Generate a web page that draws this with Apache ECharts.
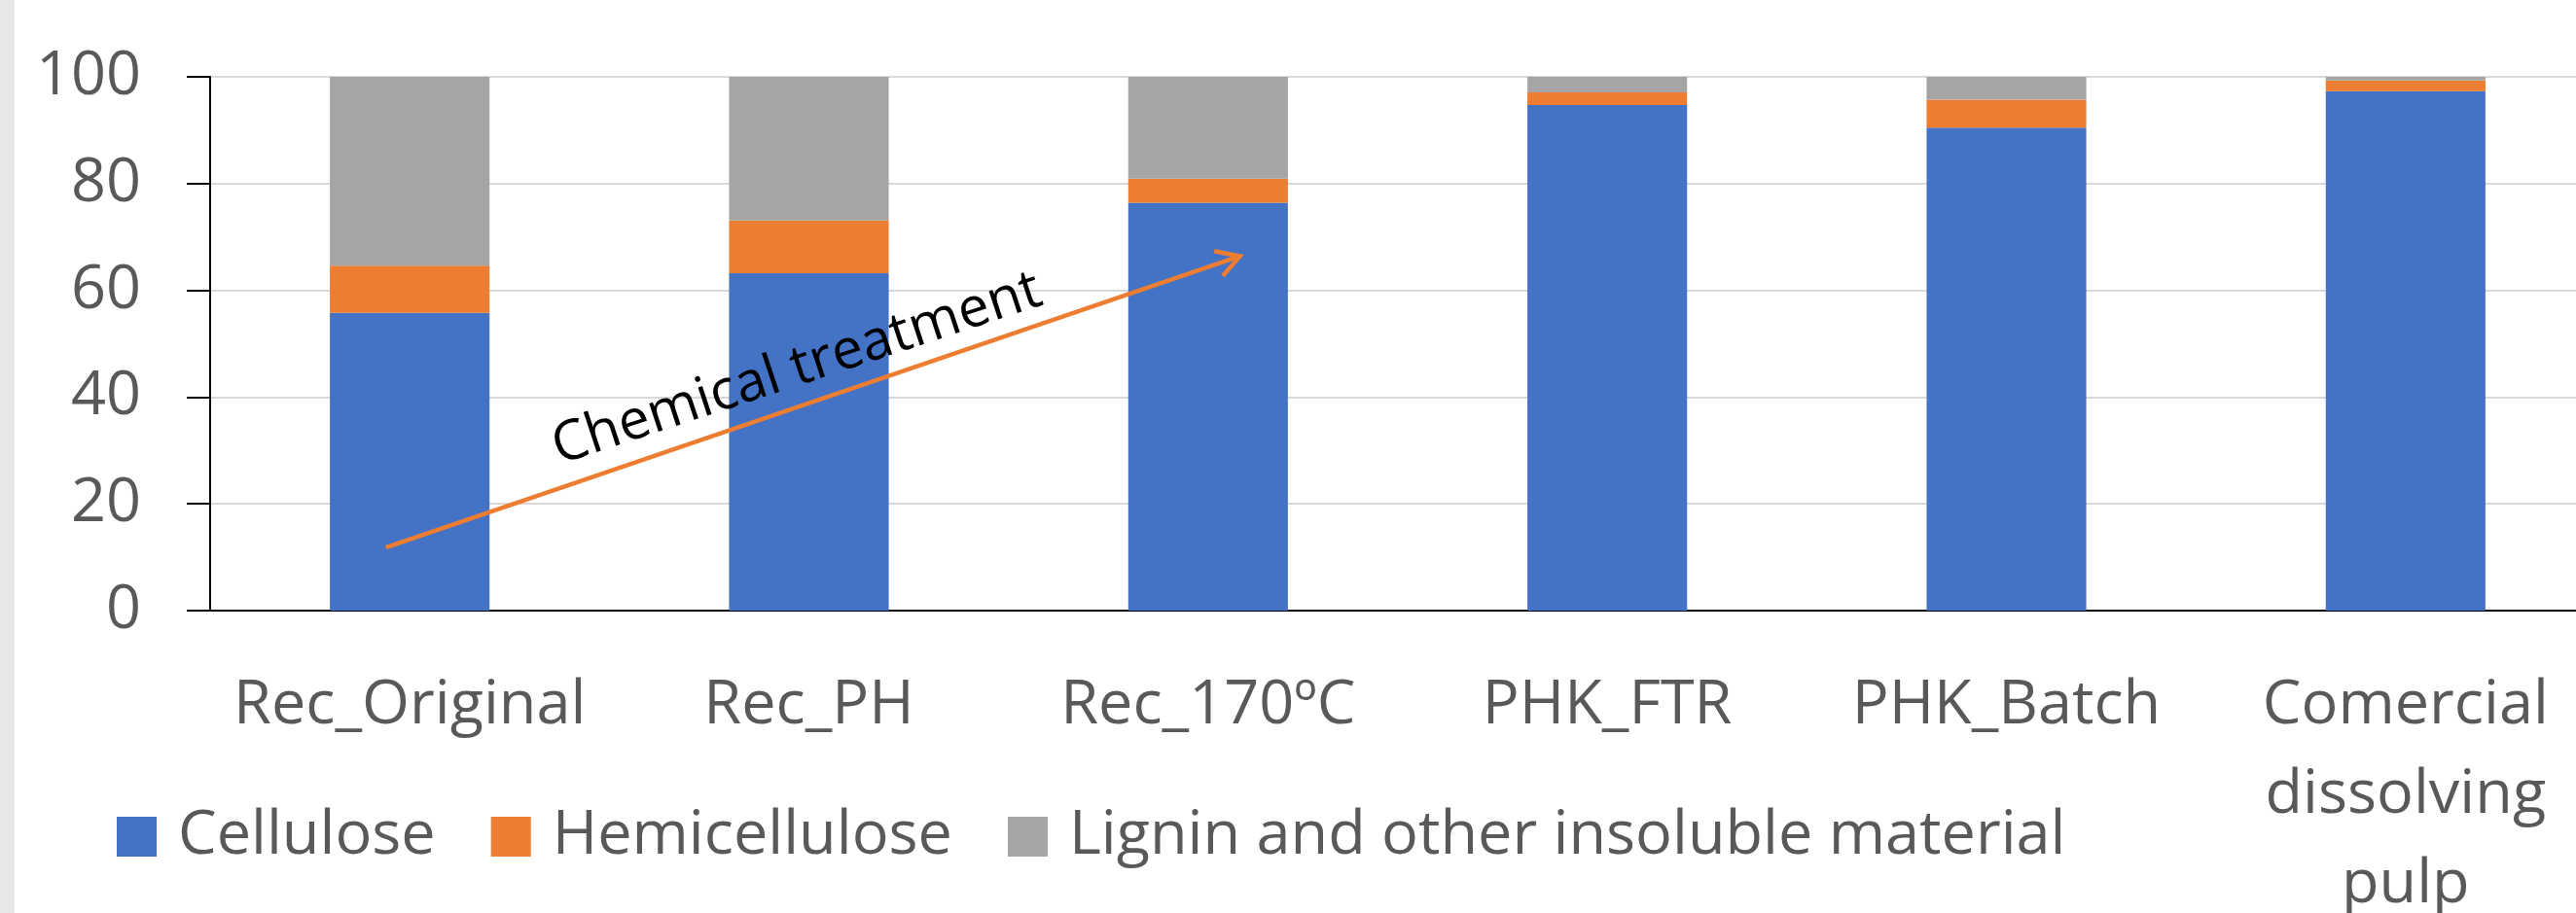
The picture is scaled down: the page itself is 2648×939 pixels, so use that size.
<!DOCTYPE html>
<html>
<head>
<meta charset="utf-8">
<script src="https://cdn.jsdelivr.net/npm/echarts@6/dist/echarts.min.js"></script>
<style>
  html, body { margin: 0; padding: 0; background: #ffffff; }
  #chart { width: 2648px; height: 939px; }
</style>
</head>
<body>
<div id="chart"></div>
<script>
// ---- data ----
const categories = ['Rec_Original', 'Rec_PH', 'Rec_170ºC', 'PHK_FTR', 'PHK_Batch', 'Comercial\ndissolving\npulp'];
const cellulose = [55.8, 63.2, 76.4, 94.7, 90.5, 97.3];
const hemicellulose = [8.8, 9.9, 4.5, 2.4, 5.2, 2.0];
const lignin = [35.4, 26.9, 19.1, 2.9, 4.3, 0.7];
const seriesNames = ['Cellulose', 'Hemicellulose', 'Lignin and other insoluble material'];
const yTicks = [0, 20, 40, 60, 80, 100];

// annotation (category-index units on x, value units on y)
const arrowFrom = [-0.06, 11.8];
const arrowTo = [2.08, 66.4];
const annotationAt = [0.97, 45.2];
const annotationText = 'Chemical treatment';

// ---- chart ----
const FONT = '"Open Sans", "Liberation Sans", sans-serif';
const chart = echarts.init(document.getElementById('chart'), null, { renderer: 'canvas' });

const barCommon = { type: 'bar', stack: 'total', barWidth: '40%', xAxisIndex: 0, yAxisIndex: 0 };

const option = {
  animation: false,
  backgroundColor: '#ffffff',
  graphic: [{
    type: 'rect', left: 0, top: 0, shape: { width: 15, height: 939 },
    style: { fill: '#e7e7e7' }, silent: true
  }],
  grid: { left: 216, top: 79, width: 2462, height: 549, containLabel: false, outerBoundsMode: 'none' },
  legend: {
    left: 115, top: 824,
    itemWidth: 41, itemHeight: 41, itemGap: 57,
    icon: 'rect',
    data: seriesNames,
    textStyle: { fontFamily: FONT, fontSize: 63, color: '#595959', lineHeight: 41, padding: [0, 0, 0, 17] }
  },
  xAxis: [{
    type: 'category',
    data: categories,
    axisLine: { show: true, onZero: false, lineStyle: { color: '#000000', width: 2 } },
    axisTick: { show: false },
    axisLabel: { interval: 0, margin: 52, fontFamily: FONT, fontSize: 63, color: '#595959', lineHeight: 92 },
    splitLine: { show: false }
  }, {
    type: 'value', min: -0.5, max: 5.5, show: false,
    axisLine: { show: false, onZero: false },
    splitLine: { show: false }
  }],
  yAxis: [{
    type: 'value', min: 0, max: 100, interval: 20,
    axisLine: { show: true, onZero: false, lineStyle: { color: '#000000', width: 2 } },
    axisTick: { show: true, inside: false, length: 24, lineStyle: { color: '#000000', width: 2 } },
    axisLabel: {
      margin: 71, fontFamily: FONT, fontSize: 63, color: '#595959',
      formatter: v => (yTicks.indexOf(v) >= 0 ? String(v) : '')
    },
    splitLine: { show: true, lineStyle: { color: '#d9d9d9', width: 2 } }
  }],
  series: [
    Object.assign({ name: seriesNames[0], data: cellulose, itemStyle: { color: '#4472C4' } }, barCommon),
    Object.assign({ name: seriesNames[1], data: hemicellulose, itemStyle: { color: '#ED7D31' } }, barCommon),
    Object.assign({ name: seriesNames[2], data: lignin, itemStyle: { color: '#A5A5A5' } }, barCommon),
    {
      type: 'custom',
      xAxisIndex: 1, yAxisIndex: 0,
      silent: true, clip: false, z: 10,
      encode: { x: [0, 2, 4], y: [1, 3, 5] },
      data: [[arrowFrom[0], arrowFrom[1], arrowTo[0], arrowTo[1], annotationAt[0], annotationAt[1]]],
      renderItem: function (params, api) {
        const p1 = api.coord([api.value(0), api.value(1)]);
        const p2 = api.coord([api.value(2), api.value(3)]);
        const pt = api.coord([api.value(4), api.value(5)]);
        const ang = Math.atan2(p2[1] - p1[1], p2[0] - p1[0]);
        const armLen = 27, half = 30 * Math.PI / 180;
        const back = ang + Math.PI;
        const a1 = [p2[0] + armLen * Math.cos(back - half), p2[1] + armLen * Math.sin(back - half)];
        const a2 = [p2[0] + armLen * Math.cos(back + half), p2[1] + armLen * Math.sin(back + half)];
        const stroke = { stroke: '#ED7D31', lineWidth: 4.5, fill: null, lineCap: 'butt', lineJoin: 'miter' };
        return {
          type: 'group',
          children: [
            { type: 'line', shape: { x1: p1[0], y1: p1[1], x2: p2[0], y2: p2[1] }, style: stroke },
            { type: 'polyline', shape: { points: [a1, p2, a2] }, style: stroke },
            {
              type: 'text', x: pt[0], y: pt[1], rotation: 18.3 * Math.PI / 180,
              style: {
                text: annotationText, align: 'center', verticalAlign: 'middle',
                font: '57px ' + FONT, fill: '#000000'
              }
            }
          ]
        };
      }
    }
  ]
};
chart.setOption(option);
</script>
</body>
</html>
